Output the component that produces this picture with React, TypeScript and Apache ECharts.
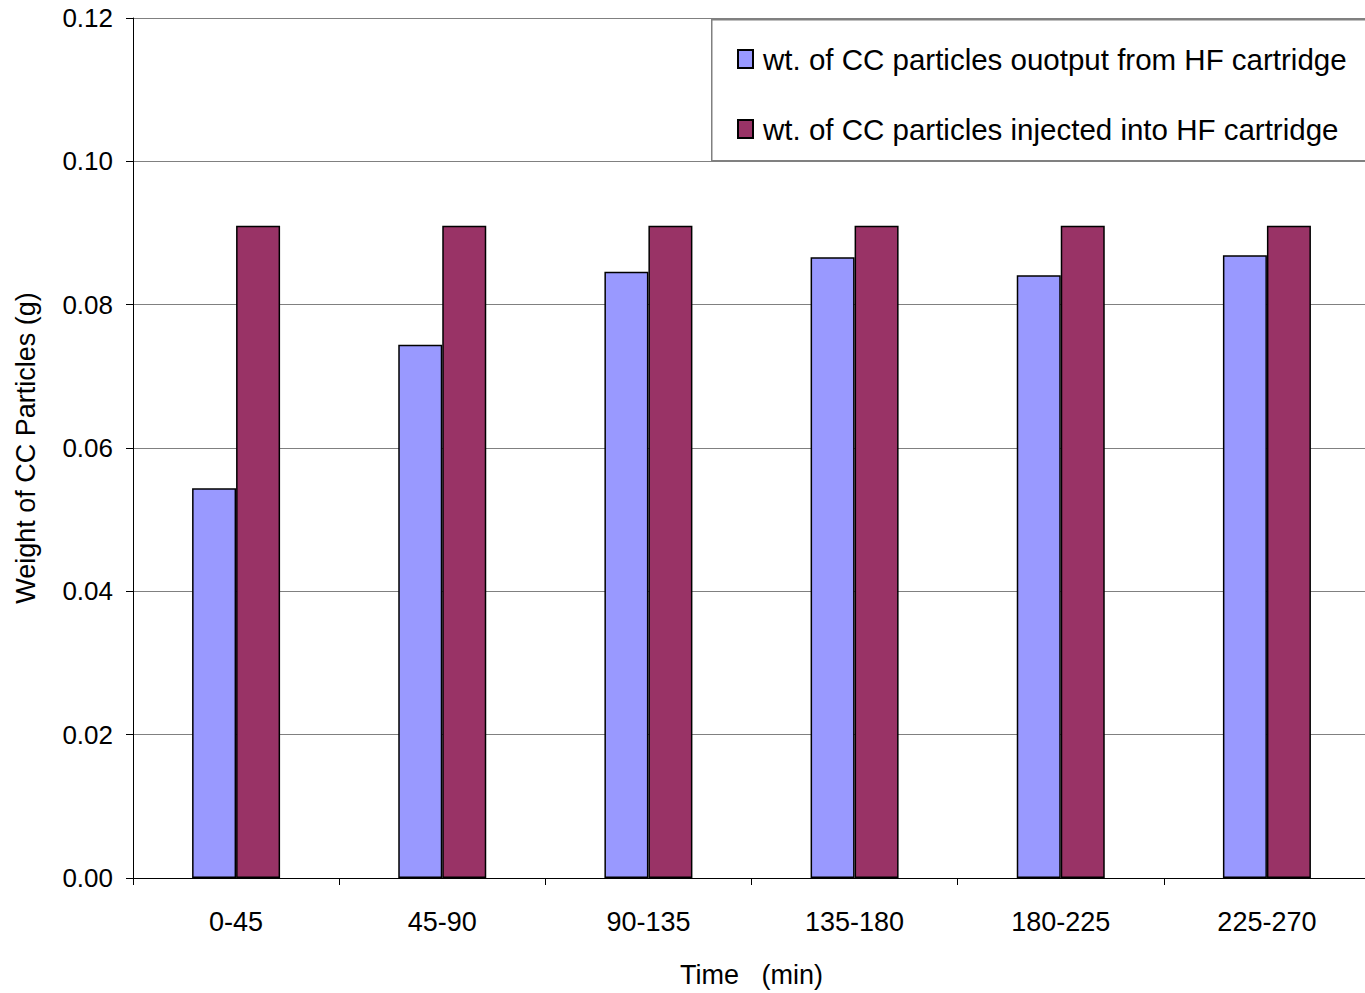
import React, { useEffect, useRef } from "react";
import * as echarts from "echarts";

const categories = ["0-45", "45-90", "90-135", "135-180", "180-225", "225-270"];
const outputWeights = [0.0544, 0.0744, 0.0846, 0.0866, 0.0841, 0.0869];
const injectedWeights = [0.091, 0.091, 0.091, 0.091, 0.091, 0.091];
const seriesNames = [
  "wt. of CC particles ouotput from HF cartridge",
  "wt. of CC particles injected into HF cartridge",
];

export default function App() {
  const ref = useRef<HTMLDivElement>(null);
  useEffect(() => {
    const chart = echarts.init(ref.current!, null, { renderer: "svg" });
    const font = "Liberation Sans, Arial, sans-serif";
    chart.setOption({
      animation: false,
      backgroundColor: "#ffffff",
      textStyle: { fontFamily: font },
      grid: { left: 133, top: 18, width: 1237, height: 860, containLabel: false },
      legend: {
        orient: "vertical",
        left: 737,
        top: 44,
        padding: 0,
        icon: "rect",
        itemWidth: 15,
        itemHeight: 18,
        itemGap: 40,
        textStyle: { fontSize: 29.5, color: "#000", fontFamily: font, padding: [0, 0, 0, 5] },
        data: seriesNames,
        z: 10,
      },
      graphic: [
        {
          type: "rect",
          left: 711,
          top: 19,
          z: 5,
          shape: { width: 700, height: 141 },
          style: { fill: "#ffffff", stroke: "#808080", lineWidth: 1.5 },
        },
      ],
      xAxis: {
        type: "category",
        data: categories,
        boundaryGap: true,
        name: "Time   (min)",
        nameLocation: "middle",
        nameGap: 83,
        nameTextStyle: { fontSize: 27, color: "#000", fontFamily: font },
        axisLine: { lineStyle: { color: "#000", width: 1 } },
        axisTick: { show: true, alignWithLabel: false, length: 7, lineStyle: { color: "#000" } },
        axisLabel: { fontSize: 27, color: "#000", margin: 30, fontFamily: font },
        splitLine: { show: false },
      },
      yAxis: {
        type: "value",
        min: 0,
        max: 0.12,
        interval: 0.02,
        name: "Weight of CC Particles (g)",
        nameLocation: "middle",
        nameGap: 94,
        nameTextStyle: { fontSize: 27, color: "#000", fontFamily: font },
        axisLine: { show: true, lineStyle: { color: "#000", width: 1 } },
        axisTick: { show: true, length: 7, lineStyle: { color: "#000" } },
        axisLabel: {
          fontSize: 26,
          color: "#000",
          margin: 20,
          fontFamily: font,
          formatter: (v: number) => v.toFixed(2),
        },
        splitLine: { show: true, lineStyle: { color: "#808080", width: 1 } },
      },
      series: [
        {
          name: seriesNames[0],
          type: "bar",
          data: outputWeights,
          barWidth: 44,
          barGap: "0%",
          itemStyle: { color: "#9999FF", borderColor: "#000", borderWidth: 1.5 },
        },
        {
          name: seriesNames[1],
          type: "bar",
          data: injectedWeights,
          barWidth: 44,
          barGap: "0%",
          itemStyle: { color: "#993366", borderColor: "#000", borderWidth: 1.5 },
        },
      ],
    });
    return () => chart.dispose();
  }, []);
  return (
    <div style={{ position: "fixed", left: 0, top: 0, width: 1365, height: 993, overflow: "hidden" }}>
      <div ref={ref} style={{ width: 1380, height: 993 }} />
    </div>
  );
}
